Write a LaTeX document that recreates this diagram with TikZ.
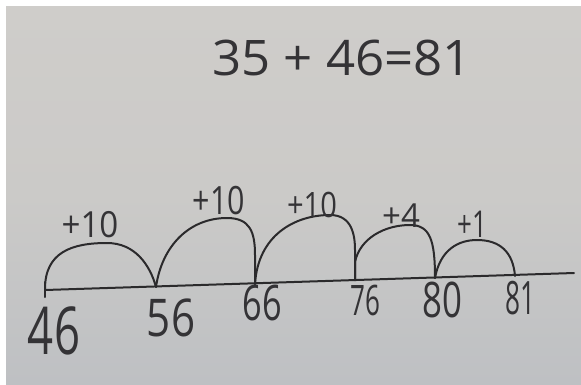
\documentclass[tikz,border=0pt]{standalone}
\usepackage{fontspec}
\setmainfont{Open Sans}
\definecolor{ink}{HTML}{2B2A2C}
\definecolor{inktext}{HTML}{343336}
\definecolor{boardtop}{HTML}{CFCDCA}
\definecolor{boardmid}{HTML}{CBCAC8}
\definecolor{boardbot}{HTML}{BEC0C3}
\begin{document}
\begin{tikzpicture}[x=1pt,y=-1pt,
  hw/.style={font=\fontsize{#1}{#1}\selectfont, text=inktext, inner sep=0pt, anchor=center},
  pen/.style={draw=ink, line width=2pt, line cap=round, line join=round}]
\useasboundingbox (0,0) rectangle (581,384);
% background photo
\fill[white] (0,0) rectangle (581,384);
\shade[top color=boardtop, bottom color=boardbot, middle color=boardmid] (6,6) rectangle (581,384);

% equation
\node[hw=49, xscale=1.04] (eq) at (342,58) {35 + 46=81};

% points on the number line
\coordinate (L0) at (45,290);
\coordinate (L1) at (574,273);
\coordinate (p46) at (45,289);
\coordinate (p56) at (156,287);
\coordinate (p66) at (255,284);
\coordinate (p76) at (355,280);
\coordinate (p80) at (435,278);
\coordinate (p81) at (515,276);
\coordinate (t46a) at (45,282);
\coordinate (t46b) at (45,297);

% number line
\draw[pen] (L0) -- (L1);
\draw[pen] (t46a) -- (t46b);

% jumps
\draw[pen] (p46) .. controls (45,252) and (72,243) .. (107,243)
                 .. controls (135,243) and (150,265) .. (p56);
\draw[pen] (p56) .. controls (162,245) and (190,218) .. (227,218)
                 .. controls (250,218) and (255,232) .. (255,255) -- (p66);
\draw[pen] (p66) .. controls (258,235) and (295,215) .. (330,215)
                 .. controls (352,215) and (355,235) .. (355,250) -- (p76);
\draw[pen] (p76) -- (355,262) .. controls (360,238) and (385,225) .. (410,225)
                 .. controls (430,225) and (435,240) .. (p80);
\draw[pen] (p80) .. controls (440,250) and (458,240) .. (477,240)
                 .. controls (500,240) and (513,252) .. (p81);

% jump labels
\node[hw=36, xscale=0.92] (j1) at (90,225) {+10};
\node[hw=39, xscale=0.78] (j2) at (219,201) {+10};
\node[hw=35, xscale=0.83] (j3) at (312,205) {+10};
\node[hw=33] (j4) at (401,216) {+4};
\node[hw=37, xscale=0.7] (j5) at (472,224) {+1};

% number labels
\node[hw=66, xscale=0.69] (n46) at (54,331) {46};
\node[hw=52, xscale=0.81] (n56) at (171,318) {56};
\node[hw=49, xscale=0.7] (n66) at (262,303) {66};
\node[hw=42, xscale=0.62] (n76) at (365,300) {76};
\node[hw=49, xscale=0.71] (n80) at (442,300) {80};
\node[hw=46, xscale=0.57] (n81) at (520,298) {81};
\end{tikzpicture}
\end{document}
